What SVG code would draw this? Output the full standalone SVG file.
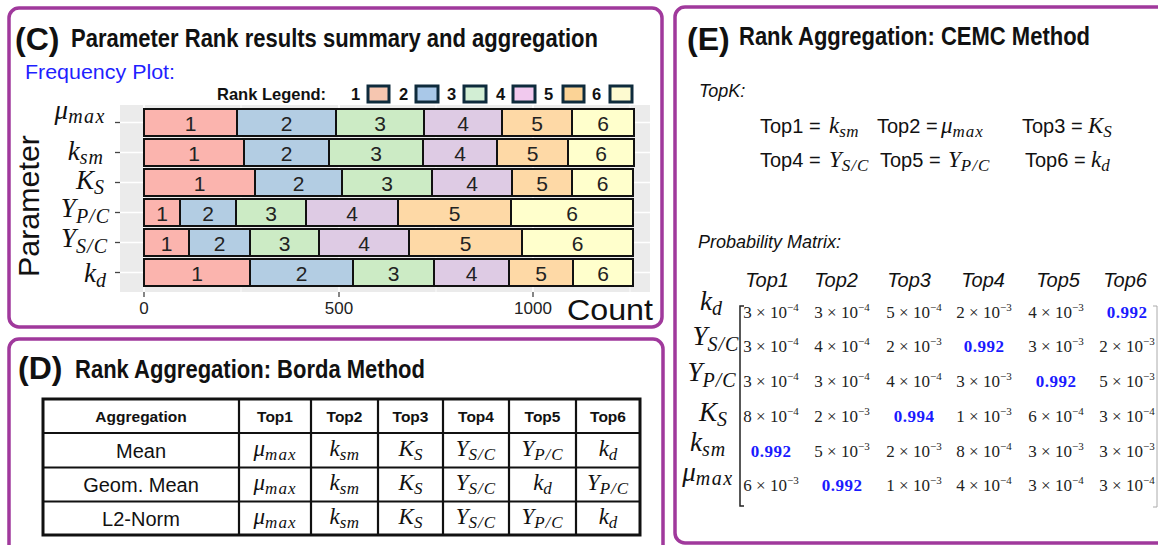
<svg xmlns="http://www.w3.org/2000/svg" width="1158" height="545" viewBox="0 0 1158 545">
<style>
.panel{fill:#fff;stroke:#a0399c;stroke-width:3.5}
.sans{font-family:"Liberation Sans",Arial,sans-serif}
.ttl{font-family:"Liberation Sans",Arial,sans-serif;font-weight:bold;fill:#111}
.m{font-family:"Liberation Serif","Times New Roman",serif;font-style:italic;fill:#111}
.bar{stroke:#111;stroke-width:2}
.c1{fill:#fbb4ae}.c2{fill:#b3cde3}.c3{fill:#ccebc5}.c4{fill:#decbe4}.c5{fill:#fed9a6}.c6{fill:#ffffcc}
.bl{font-family:"Liberation Sans",Arial,sans-serif;font-size:21px;fill:#222;text-anchor:middle}
.lg{stroke:#0e2b3c;stroke-width:3}
.grid{stroke:#fff;stroke-width:1.6}
.gridm{stroke:#fff;stroke-width:0.8}
.tick{stroke:#444;stroke-width:1.3}
.cell{font-family:"Liberation Sans",Arial,sans-serif;font-size:20px;fill:#111;text-anchor:middle}
.hd{font-family:"Liberation Sans",Arial,sans-serif;font-size:15.5px;font-weight:bold;fill:#111;text-anchor:middle}
.v{font-family:"Liberation Serif","Times New Roman",serif;font-size:17px;fill:#222;text-anchor:middle}
.v tspan{font-size:11px}
.vb{font-family:"Liberation Serif","Times New Roman",serif;font-size:17px;font-weight:bold;fill:#1a1aff;text-anchor:middle;letter-spacing:0.5px}
.th{font-family:"Liberation Sans",Arial,sans-serif;font-size:20px;font-style:italic;fill:#111;text-anchor:middle}
.eq{font-family:"Liberation Sans",Arial,sans-serif;font-size:20px;fill:#111}
</style>

<!-- Panel C -->
<g id="panelC">
<rect class="panel" x="9" y="8" width="653" height="319" rx="10"/>
<text class="ttl" x="15" y="50" font-size="32">(C)</text>
<text class="ttl" x="71" y="47" font-size="25" textLength="527" lengthAdjust="spacingAndGlyphs">Parameter Rank results summary and aggregation</text>
<text class="sans" x="25" y="79" font-size="20" fill="#1f1fff" textLength="150" lengthAdjust="spacingAndGlyphs">Frequency Plot:</text>
</g>

<g id="legend">
<text class="ttl" x="217" y="100" font-size="16.5">Rank Legend:</text>
<g class="ttl" font-size="16.5">
<text x="351" y="100">1</text><text x="399" y="100">2</text><text x="447" y="100">3</text><text x="496" y="100">4</text><text x="544" y="100">5</text><text x="592" y="100">6</text>
</g>
<rect class="lg" x="368" y="86" width="21" height="16" fill="#f6c6b0"/>
<rect class="lg" x="416" y="86" width="22" height="16" fill="#a9c8e8"/>
<rect class="lg" x="464" y="86" width="22" height="16" fill="#d2eed4"/>
<rect class="lg" x="513" y="86" width="22" height="16" fill="#f1c9ee"/>
<rect class="lg" x="563" y="86" width="21" height="16" fill="#fbd396"/>
<rect class="lg" x="610" y="86" width="22" height="16" fill="#fdfad0"/>
</g>

<g id="plot">
<rect x="120" y="105" width="530" height="187" fill="#ebebeb"/>
<g>
<line class="gridm" x1="241" y1="105" x2="241" y2="292"/>
<line class="gridm" x1="436" y1="105" x2="436" y2="292"/>
<line class="gridm" x1="630" y1="105" x2="630" y2="292"/>
<line class="grid" x1="144" y1="105" x2="144" y2="292"/>
<line class="grid" x1="339" y1="105" x2="339" y2="292"/>
<line class="grid" x1="533" y1="105" x2="533" y2="292"/>
<line class="grid" x1="120" y1="122.5" x2="650" y2="122.5"/>
<line class="grid" x1="120" y1="152.5" x2="650" y2="152.5"/>
<line class="grid" x1="120" y1="182.5" x2="650" y2="182.5"/>
<line class="grid" x1="120" y1="212.5" x2="650" y2="212.5"/>
<line class="grid" x1="120" y1="242.5" x2="650" y2="242.5"/>
<line class="grid" x1="120" y1="272.5" x2="650" y2="272.5"/>
</g>
<!-- row mu_max -->
<g>
<rect class="bar c1" x="144" y="109" width="93" height="27"/><rect class="bar c2" x="237" y="109" width="99" height="27"/><rect class="bar c3" x="336" y="109" width="88" height="27"/><rect class="bar c4" x="424" y="109" width="78" height="27"/><rect class="bar c5" x="502" y="109" width="70" height="27"/><rect class="bar c6" x="572" y="109" width="62" height="27"/>
<text class="bl" x="190.5" y="131">1</text><text class="bl" x="286.5" y="131">2</text><text class="bl" x="380" y="131">3</text><text class="bl" x="463" y="131">4</text><text class="bl" x="537" y="131">5</text><text class="bl" x="603" y="131">6</text>
</g>
<!-- row k_sm -->
<g>
<rect class="bar c1" x="144" y="139" width="100" height="27"/><rect class="bar c2" x="244" y="139" width="85" height="27"/><rect class="bar c3" x="329" y="139" width="94" height="27"/><rect class="bar c4" x="423" y="139" width="74" height="27"/><rect class="bar c5" x="497" y="139" width="71" height="27"/><rect class="bar c6" x="568" y="139" width="66" height="27"/>
<text class="bl" x="194" y="161">1</text><text class="bl" x="286.5" y="161">2</text><text class="bl" x="376" y="161">3</text><text class="bl" x="460" y="161">4</text><text class="bl" x="532.5" y="161">5</text><text class="bl" x="601" y="161">6</text>
</g>
<!-- row K_S -->
<g>
<rect class="bar c1" x="144" y="169" width="111" height="27"/><rect class="bar c2" x="255" y="169" width="87" height="27"/><rect class="bar c3" x="342" y="169" width="90" height="27"/><rect class="bar c4" x="432" y="169" width="80" height="27"/><rect class="bar c5" x="512" y="169" width="60" height="27"/><rect class="bar c6" x="572" y="169" width="61" height="27"/>
<text class="bl" x="199.5" y="191">1</text><text class="bl" x="298.5" y="191">2</text><text class="bl" x="387" y="191">3</text><text class="bl" x="472" y="191">4</text><text class="bl" x="542" y="191">5</text><text class="bl" x="602.5" y="191">6</text>
</g>
<!-- row Y_P/C -->
<g>
<rect class="bar c1" x="144" y="199" width="36" height="27"/><rect class="bar c2" x="180" y="199" width="56" height="27"/><rect class="bar c3" x="236" y="199" width="70" height="27"/><rect class="bar c4" x="306" y="199" width="92" height="27"/><rect class="bar c5" x="398" y="199" width="113" height="27"/><rect class="bar c6" x="511" y="199" width="122" height="27"/>
<text class="bl" x="162" y="221">1</text><text class="bl" x="208" y="221">2</text><text class="bl" x="271" y="221">3</text><text class="bl" x="352" y="221">4</text><text class="bl" x="454.5" y="221">5</text><text class="bl" x="572" y="221">6</text>
</g>
<!-- row Y_S/C -->
<g>
<rect class="bar c1" x="144" y="229" width="45" height="27"/><rect class="bar c2" x="189" y="229" width="61" height="27"/><rect class="bar c3" x="250" y="229" width="69" height="27"/><rect class="bar c4" x="319" y="229" width="90" height="27"/><rect class="bar c5" x="409" y="229" width="113" height="27"/><rect class="bar c6" x="522" y="229" width="111" height="27"/>
<text class="bl" x="166.5" y="251">1</text><text class="bl" x="219.5" y="251">2</text><text class="bl" x="284.5" y="251">3</text><text class="bl" x="364" y="251">4</text><text class="bl" x="465.5" y="251">5</text><text class="bl" x="577.5" y="251">6</text>
</g>
<!-- row k_d -->
<g>
<rect class="bar c1" x="144" y="259" width="106" height="27"/><rect class="bar c2" x="250" y="259" width="103" height="27"/><rect class="bar c3" x="353" y="259" width="81" height="27"/><rect class="bar c4" x="434" y="259" width="75" height="27"/><rect class="bar c5" x="509" y="259" width="64" height="27"/><rect class="bar c6" x="573" y="259" width="60" height="27"/>
<text class="bl" x="197" y="281">1</text><text class="bl" x="301.5" y="281">2</text><text class="bl" x="393.5" y="281">3</text><text class="bl" x="471.5" y="281">4</text><text class="bl" x="541" y="281">5</text><text class="bl" x="603" y="281">6</text>
</g>
<!-- ticks -->
<g>
<line class="tick" x1="115" y1="122.5" x2="120" y2="122.5"/><line class="tick" x1="115" y1="152.5" x2="120" y2="152.5"/><line class="tick" x1="115" y1="182.5" x2="120" y2="182.5"/><line class="tick" x1="115" y1="212.5" x2="120" y2="212.5"/><line class="tick" x1="115" y1="242.5" x2="120" y2="242.5"/><line class="tick" x1="115" y1="272.5" x2="120" y2="272.5"/>
<line class="tick" x1="144" y1="292" x2="144" y2="297"/><line class="tick" x1="339" y1="292" x2="339" y2="297"/><line class="tick" x1="533" y1="292" x2="533" y2="297"/>
</g>
<g class="sans" font-size="17" fill="#222" text-anchor="middle">
<text x="144" y="314">0</text><text x="339" y="314">500</text><text x="533" y="314">1000</text>
</g>
<text class="sans" x="567" y="320" font-size="29" fill="#111" textLength="86" lengthAdjust="spacingAndGlyphs">Count</text>
<text class="sans" font-size="29" fill="#111" text-anchor="middle" transform="translate(39,206) rotate(-90)" textLength="142" lengthAdjust="spacingAndGlyphs">Parameter</text>
<!-- y labels -->
<g text-anchor="end">
<text class="m" x="106" y="119" font-size="27">μ<tspan font-size="20" dy="4" letter-spacing="1.5">max</tspan></text>
<text class="m" x="104" y="160" font-size="27">k<tspan font-size="20" dy="4" letter-spacing="1">sm</tspan></text>
<text class="m" x="104" y="189" font-size="27">K<tspan font-size="20" dy="5">S</tspan></text>
<text class="m" x="110" y="217" font-size="27">Y<tspan font-size="20" dy="6" letter-spacing="1">P/C</tspan></text>
<text class="m" x="108" y="247" font-size="27">Y<tspan font-size="20" dy="6" letter-spacing="1">S/C</tspan></text>
<text class="m" x="106" y="282" font-size="27">k<tspan font-size="20" dy="5">d</tspan></text>
</g>
</g>

<!-- Panel D -->
<g id="panelD">
<rect class="panel" x="9" y="339" width="654" height="240" rx="10"/>
<text class="ttl" x="18" y="379" font-size="32">(D)</text>
<text class="ttl" x="75" y="378" font-size="25" textLength="350" lengthAdjust="spacingAndGlyphs">Rank Aggregation: Borda Method</text>
</g>
<g id="tableD">
<rect x="43" y="399" width="597" height="136" fill="#fff" stroke="#111" stroke-width="3"/>
<g stroke="#111" stroke-width="2.2">
<line x1="43" y1="433" x2="640" y2="433"/><line x1="43" y1="467.5" x2="640" y2="467.5"/><line x1="43" y1="501.5" x2="640" y2="501.5"/>
<line x1="239" y1="399" x2="239" y2="535"/><line x1="311" y1="399" x2="311" y2="535"/><line x1="378" y1="399" x2="378" y2="535"/><line x1="443" y1="399" x2="443" y2="535"/><line x1="509" y1="399" x2="509" y2="535"/><line x1="576" y1="399" x2="576" y2="535"/>
</g>
<text class="hd" x="141" y="422">Aggregation</text><text class="hd" x="275" y="422">Top1</text><text class="hd" x="344.5" y="422">Top2</text><text class="hd" x="410.5" y="422">Top3</text><text class="hd" x="476" y="422">Top4</text><text class="hd" x="542.5" y="422">Top5</text><text class="hd" x="608" y="422">Top6</text>
<text class="cell" x="141" y="458">Mean</text>
<text class="cell" x="141" y="492">Geom. Mean</text>
<text class="cell" x="141" y="526">L2-Norm</text>
<g text-anchor="middle">
<text class="m" x="275" y="456" font-size="23">μ<tspan font-size="17" dy="4" letter-spacing="1">max</tspan></text>
<text class="m" x="344.5" y="456" font-size="23">k<tspan font-size="17" dy="4" letter-spacing="0.5">sm</tspan></text>
<text class="m" x="410.5" y="456" font-size="23">K<tspan font-size="17" dy="4">S</tspan></text>
<text class="m" x="476" y="456" font-size="23">Y<tspan font-size="17" dy="4" letter-spacing="1">S/C</tspan></text>
<text class="m" x="542.5" y="456" font-size="23">Y<tspan font-size="17" dy="4" letter-spacing="1">P/C</tspan></text>
<text class="m" x="608" y="456" font-size="23">k<tspan font-size="17" dy="4">d</tspan></text>

<text class="m" x="275" y="490" font-size="23">μ<tspan font-size="17" dy="4" letter-spacing="1">max</tspan></text>
<text class="m" x="344.5" y="490" font-size="23">k<tspan font-size="17" dy="4" letter-spacing="0.5">sm</tspan></text>
<text class="m" x="410.5" y="490" font-size="23">K<tspan font-size="17" dy="4">S</tspan></text>
<text class="m" x="476" y="490" font-size="23">Y<tspan font-size="17" dy="4" letter-spacing="1">S/C</tspan></text>
<text class="m" x="542.5" y="490" font-size="23">k<tspan font-size="17" dy="4">d</tspan></text>
<text class="m" x="608" y="490" font-size="23">Y<tspan font-size="17" dy="4" letter-spacing="1">P/C</tspan></text>

<text class="m" x="275" y="524" font-size="23">μ<tspan font-size="17" dy="4" letter-spacing="1">max</tspan></text>
<text class="m" x="344.5" y="524" font-size="23">k<tspan font-size="17" dy="4" letter-spacing="0.5">sm</tspan></text>
<text class="m" x="410.5" y="524" font-size="23">K<tspan font-size="17" dy="4">S</tspan></text>
<text class="m" x="476" y="524" font-size="23">Y<tspan font-size="17" dy="4" letter-spacing="1">S/C</tspan></text>
<text class="m" x="542.5" y="524" font-size="23">Y<tspan font-size="17" dy="4" letter-spacing="1">P/C</tspan></text>
<text class="m" x="608" y="524" font-size="23">k<tspan font-size="17" dy="4">d</tspan></text>
</g>
</g>

<!-- Panel E -->
<g id="panelE">
<rect class="panel" x="675" y="7" width="520" height="536" rx="10"/>
<text class="ttl" x="687" y="50" font-size="32">(E)</text>
<text class="ttl" x="739" y="45" font-size="25" textLength="351" lengthAdjust="spacingAndGlyphs">Rank Aggregation: CEMC Method</text>
<text class="sans" x="699" y="97" font-size="18" font-style="italic" fill="#111">TopK:</text>
</g>
<g id="topk">
<text class="eq" x="760" y="133">Top1 =</text>
<text class="m" x="829" y="133" font-size="23">k<tspan font-size="17" dy="4" letter-spacing="0.5">sm</tspan></text>
<text class="eq" x="877" y="133">Top2 =</text>
<text class="m" x="941" y="133" font-size="23">μ<tspan font-size="17" dy="4" letter-spacing="1">max</tspan></text>
<text class="eq" x="1022" y="133">Top3 =</text>
<text class="m" x="1088" y="133" font-size="23">K<tspan font-size="17" dy="4">S</tspan></text>
<text class="eq" x="760" y="167">Top4 =</text>
<text class="m" x="829" y="167" font-size="23">Y<tspan font-size="17" dy="4" letter-spacing="1">S/C</tspan></text>
<text class="eq" x="880" y="167">Top5 =</text>
<text class="m" x="948" y="167" font-size="23">Y<tspan font-size="17" dy="4" letter-spacing="1">P/C</tspan></text>
<text class="eq" x="1025" y="167">Top6 =</text>
<text class="m" x="1091" y="167" font-size="23">k<tspan font-size="17" dy="4">d</tspan></text>
</g>
<g id="matrix">
<text class="sans" x="698" y="248" font-size="18" font-style="italic" fill="#111">Probability Matrix:</text>
<text class="th" x="767" y="287">Top1</text><text class="th" x="836" y="287">Top2</text><text class="th" x="909" y="287">Top3</text><text class="th" x="983" y="287">Top4</text><text class="th" x="1058" y="287">Top5</text><text class="th" x="1125" y="287">Top6</text>
<g text-anchor="middle">
<text class="m" x="711" y="310" font-size="27">k<tspan font-size="20" dy="5">d</tspan></text>
<text class="m" x="716" y="345" font-size="27">Y<tspan font-size="20" dy="6" letter-spacing="1">S/C</tspan></text>
<text class="m" x="712" y="381" font-size="27">Y<tspan font-size="20" dy="6" letter-spacing="1">P/C</tspan></text>
<text class="m" x="713" y="421" font-size="27">K<tspan font-size="20" dy="5">S</tspan></text>
<text class="m" x="708" y="451" font-size="27">k<tspan font-size="20" dy="5" letter-spacing="1">sm</tspan></text>
<text class="m" x="708" y="481" font-size="27">μ<tspan font-size="20" dy="4" letter-spacing="1.5">max</tspan></text>
</g>
<path d="M744,306 H740 V506 H744" fill="none" stroke="#222" stroke-width="1.5"/>
<path d="M1153,306 H1157 V507 H1153" fill="none" stroke="#aaa" stroke-width="1"/>
<!-- row kd -->
<text class="v" x="771" y="318">3 × 10<tspan dy="-7">−4</tspan></text>
<text class="v" x="842" y="318">3 × 10<tspan dy="-7">−4</tspan></text>
<text class="v" x="914" y="318">5 × 10<tspan dy="-7">−4</tspan></text>
<text class="v" x="984" y="318">2 × 10<tspan dy="-7">−3</tspan></text>
<text class="v" x="1056" y="318">4 × 10<tspan dy="-7">−3</tspan></text>
<text class="vb" x="1127" y="318">0.992</text>
<!-- row YS/C -->
<text class="v" x="771" y="352">3 × 10<tspan dy="-7">−4</tspan></text>
<text class="v" x="842" y="352">4 × 10<tspan dy="-7">−4</tspan></text>
<text class="v" x="914" y="352">2 × 10<tspan dy="-7">−3</tspan></text>
<text class="vb" x="984" y="352">0.992</text>
<text class="v" x="1056" y="352">3 × 10<tspan dy="-7">−3</tspan></text>
<text class="v" x="1127" y="352">2 × 10<tspan dy="-7">−3</tspan></text>
<!-- row YP/C -->
<text class="v" x="771" y="387">3 × 10<tspan dy="-7">−4</tspan></text>
<text class="v" x="842" y="387">3 × 10<tspan dy="-7">−4</tspan></text>
<text class="v" x="914" y="387">4 × 10<tspan dy="-7">−4</tspan></text>
<text class="v" x="984" y="387">3 × 10<tspan dy="-7">−3</tspan></text>
<text class="vb" x="1056" y="387">0.992</text>
<text class="v" x="1127" y="387">5 × 10<tspan dy="-7">−3</tspan></text>
<!-- row KS -->
<text class="v" x="771" y="422">8 × 10<tspan dy="-7">−4</tspan></text>
<text class="v" x="842" y="422">2 × 10<tspan dy="-7">−3</tspan></text>
<text class="vb" x="914" y="422">0.994</text>
<text class="v" x="984" y="422">1 × 10<tspan dy="-7">−3</tspan></text>
<text class="v" x="1056" y="422">6 × 10<tspan dy="-7">−4</tspan></text>
<text class="v" x="1127" y="422">3 × 10<tspan dy="-7">−4</tspan></text>
<!-- row ksm -->
<text class="vb" x="771" y="457">0.992</text>
<text class="v" x="842" y="457">5 × 10<tspan dy="-7">−3</tspan></text>
<text class="v" x="914" y="457">2 × 10<tspan dy="-7">−3</tspan></text>
<text class="v" x="984" y="457">8 × 10<tspan dy="-7">−4</tspan></text>
<text class="v" x="1056" y="457">3 × 10<tspan dy="-7">−3</tspan></text>
<text class="v" x="1127" y="457">3 × 10<tspan dy="-7">−3</tspan></text>
<!-- row mu_max -->
<text class="v" x="771" y="491">6 × 10<tspan dy="-7">−3</tspan></text>
<text class="vb" x="842" y="491">0.992</text>
<text class="v" x="914" y="491">1 × 10<tspan dy="-7">−3</tspan></text>
<text class="v" x="984" y="491">4 × 10<tspan dy="-7">−4</tspan></text>
<text class="v" x="1056" y="491">3 × 10<tspan dy="-7">−4</tspan></text>
<text class="v" x="1127" y="491">3 × 10<tspan dy="-7">−4</tspan></text>
</g>
</svg>
